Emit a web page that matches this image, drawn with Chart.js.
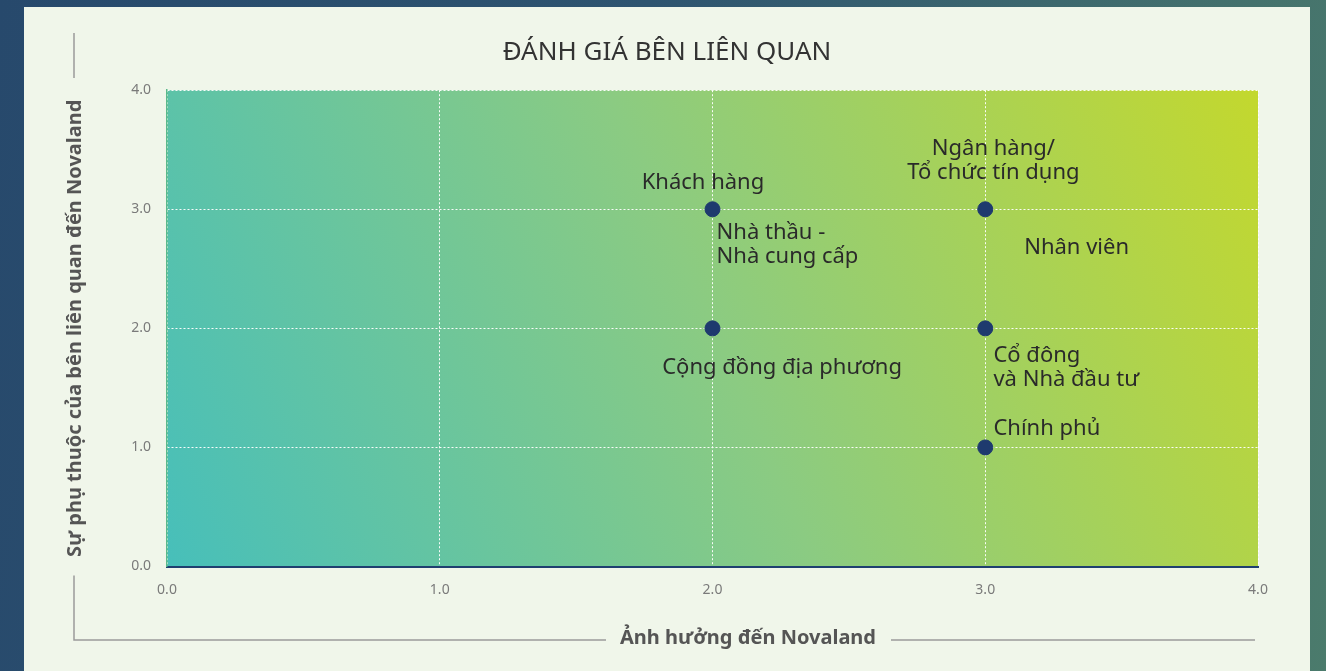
<!DOCTYPE html>
<html>
<head>
<meta charset="utf-8">
<script src="https://cdn.jsdelivr.net/npm/chart.js@4.4.1/dist/chart.umd.min.js"></script>
<style>
  html, body { margin: 0; padding: 0; }
  body {
    width: 1326px; height: 671px; overflow: hidden;
    background: linear-gradient(100deg, #27496c 0%, #2e5470 45%, #4b7b6c 100%);
    position: relative;
  }
  #card {
    position: absolute; left: 24px; top: 7px; width: 1286px; height: 664px;
    background: #f0f6ea;
  }
</style>
</head>
<body>
<div id="card"><canvas id="chart" width="1286" height="664"></canvas></div>
<script>
// stakeholder points: x = influence on Novaland, y = dependence on Novaland
const pointX = [2, 2, 3, 3, 3];
const pointY = [3, 2, 3, 2, 1];

// label texts and where they sit, in axis units
const labelTexts = [
  ['Khách hàng'],
  ['Nhà thầu -', 'Nhà cung cấp'],
  ['Cộng đồng địa phương'],
  ['Ngân hàng/', 'Tổ chức tín dụng'],
  ['Nhân viên'],
  ['Cổ đông', 'và Nhà đầu tư'],
  ['Chính phủ']
];
const labelX = [1.965, 2.015, 2.255, 3.03, 3.335, 3.03, 3.03];
const labelY = [3.227, 2.80, 1.67, 3.51, 2.68, 1.773, 1.16];
const labelAlign = ['center', 'left', 'center', 'center', 'center', 'left', 'left'];

const tickValues = [0, 1, 2, 3, 4];

const titleText = 'ĐÁNH GIÁ BÊN LIÊN QUAN';
const xTitle = 'Ảnh hưởng đến Novaland';
const yTitle = 'Sự phụ thuộc của bên liên quan đến Novaland';

const FONT = "'Noto Sans', sans-serif";

const bgPlugin = {
  id: 'plotBg',
  beforeDraw(chart) {
    const { ctx, chartArea: a } = chart;
    const g = ctx.createLinearGradient(a.left, a.bottom, a.right, a.top);
    g.addColorStop(0, '#47bfba');
    g.addColorStop(0.5, '#8bcb82');
    g.addColorStop(1, '#c3d82e');
    ctx.save();
    ctx.fillStyle = g;
    ctx.fillRect(a.left, a.top, a.right - a.left, a.bottom - a.top);
    ctx.restore();
  }
};

const labelPlugin = {
  id: 'pointLabels',
  afterDatasetsDraw(chart) {
    const { ctx, scales: { x, y } } = chart;
    ctx.save();
    ctx.font = '22px ' + FONT;
    ctx.fillStyle = '#2a2a2a';
    ctx.textBaseline = 'middle';
    labelTexts.forEach((lines, i) => {
      ctx.textAlign = labelAlign[i];
      const px = x.getPixelForValue(labelX[i]);
      const py = y.getPixelForValue(labelY[i]);
      lines.forEach((t, j) => ctx.fillText(t, px, py + j * 24));
    });
    ctx.restore();
  }
};

const framePlugin = {
  id: 'frame',
  afterDraw(chart) {
    const { ctx, chartArea: a } = chart;
    ctx.save();
    // x axis title
    ctx.font = 'bold 20px ' + FONT;
    ctx.fillStyle = '#555';
    ctx.textAlign = 'center';
    ctx.textBaseline = 'middle';
    const cx = 724, cy = 631;
    ctx.fillText(xTitle, cx, cy);
    const w = ctx.measureText(xTitle).width;

    ctx.strokeStyle = '#9a9a9a';
    ctx.lineWidth = 1.5;
    ctx.beginPath();
    ctx.moveTo(50, 26); ctx.lineTo(50, 71);
    ctx.moveTo(50, a.bottom + 9); ctx.lineTo(50, 633);
    ctx.lineTo(cx - w / 2 - 14, 633);
    ctx.moveTo(cx + w / 2 + 15, 633); ctx.lineTo(a.right - 3, 633);
    ctx.stroke();
    ctx.restore();
  }
};

const grid = {
  color: 'rgba(255,255,255,0.95)',
  lineWidth: 1,
  drawTicks: false
};

new Chart(document.getElementById('chart'), {
  type: 'scatter',
  data: {
    datasets: [{
      data: pointX.map((v, i) => ({ x: v, y: pointY[i] })),
      backgroundColor: '#1e3a6e',
      borderColor: '#1e3a6e',
      pointRadius: 7.5,
      pointHoverRadius: 7.5
    }]
  },
  options: {
    responsive: false,
    animation: false,
    layout: { padding: 0 },
    plugins: {
      legend: { display: false },
      tooltip: { enabled: false },
      title: {
        display: true,
        text: titleText,
        color: '#333',
        font: { family: FONT, size: 26, weight: 'normal' },
        padding: { top: 30, bottom: 22 }
      }
    },
    scales: {
      x: {
        type: 'linear',
        min: 0, max: 4,
        afterBuildTicks(s) { s.ticks = tickValues.map(v => ({ value: v })); },
        afterFit(s) { s.height = 104.5; },
        grid: { ...grid },
        border: { display: true, color: '#1f3f70', width: 2, dash: [2, 2] },
        ticks: {
          padding: 15,
          color: '#7a7a7a',
          font: { family: FONT, size: 14 },
          callback: v => v.toFixed(1)
        }
      },
      y: {
        type: 'linear',
        min: 0, max: 4,
        afterBuildTicks(s) { s.ticks = tickValues.map(v => ({ value: v })); },
        afterFit(s) { s.width = 143; },
        grid: { ...grid },
        border: { display: true, color: '#5bb98a', width: 1.5, dash: [2, 2] },
        title: {
          display: true,
          text: yTitle,
          color: '#555',
          font: { family: FONT, size: 20, weight: 'bold' },
          padding: { top: 39, bottom: 0 }
        },
        ticks: {
          padding: 16,
          color: '#7a7a7a',
          font: { family: FONT, size: 14 },
          callback: v => v.toFixed(1)
        }
      },
      // empty right-hand axis, only keeps the right margin of the card
      yRight: {
        type: 'linear',
        position: 'right',
        min: 0, max: 4,
        afterFit(s) { s.width = 52; },
        grid: { display: false },
        border: { display: false },
        ticks: { display: false }
      }
    }
  },
  plugins: [bgPlugin, labelPlugin, framePlugin]
});
</script>
</body>
</html>
